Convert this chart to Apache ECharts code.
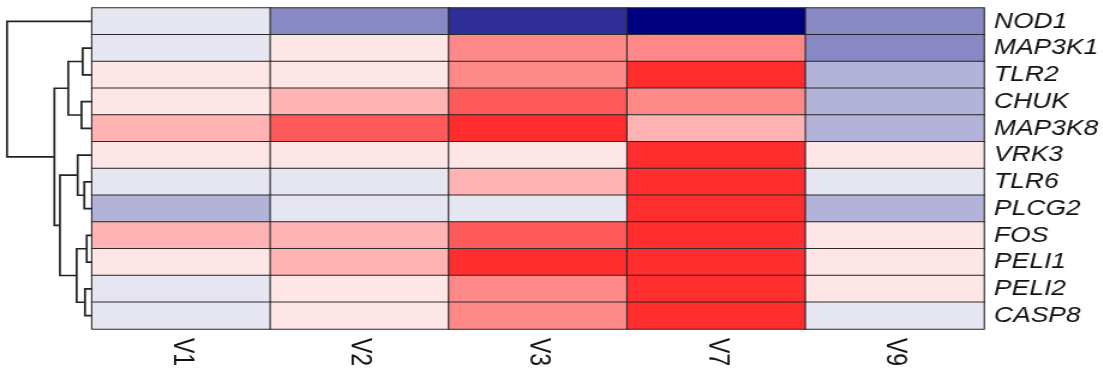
<!DOCTYPE html>
<html>
<head>
<meta charset="utf-8">
<script src="https://cdn.jsdelivr.net/npm/echarts@6/dist/echarts.min.js"></script>
<style>
  html, body { margin: 0; padding: 0; background: #ffffff; overflow: hidden; }
  #frame { width: 1103px; height: 376px; overflow: hidden; }
  #chart { height: 376px; transform-origin: 0 0; }
</style>
</head>
<body>
<div id="frame"><div id="chart"></div></div>
<script>
// Genes (rows, top to bottom) and samples (columns)
const genes = ['NOD1', 'MAP3K1', 'TLR2', 'CHUK', 'MAP3K8', 'VRK3', 'TLR6', 'PLCG2', 'FOS', 'PELI1', 'PELI2', 'CASP8'];
const samples = ['V1', 'V2', 'V3', 'V7', 'V9'];

// Binned expression level per gene, one entry per sample (-5 = lowest, 5 = highest)
const NOD1   = [-1, -3, -4, -5, -3];
const MAP3K1 = [-1,  1,  3,  3, -3];
const TLR2   = [ 1,  1,  3,  5, -2];
const CHUK   = [ 1,  2,  4,  3, -2];
const MAP3K8 = [ 2,  4,  5,  2, -2];
const VRK3   = [ 1,  1,  1,  5,  1];
const TLR6   = [-1, -1,  2,  5, -1];
const PLCG2  = [-2, -1, -1,  5, -2];
const FOS    = [ 2,  2,  4,  5,  1];
const PELI1  = [ 1,  2,  5,  5,  1];
const PELI2  = [-1,  1,  3,  5,  1];
const CASP8  = [-1,  1,  3,  5, -1];
const levels = [NOD1, MAP3K1, TLR2, CHUK, MAP3K8, VRK3, TLR6, PLCG2, FOS, PELI1, PELI2, CASP8];

// Level colours: navy through white to red
const levelColors = {
  '-5': '#000080', '-4': '#2e2e96', '-3': '#8888c4', '-2': '#b3b3d9', '-1': '#e6e6f2',
  '1': '#ffe6e6', '2': '#ffb3b3', '3': '#ff8888', '4': '#ff5a5a', '5': '#ff2d2d'
};

// Row clustering, hclust-style: negative = leaf (1-based row), positive = earlier merge step
const mergePairs = [[-9, -10], [-11, -12], [-7, -8], [-2, -3], [-4, -5], [-6, 3], [1, 2], [4, 5], [6, 7], [8, 9], [-1, 10]];
const mergeHeights = [5.3, 7.0, 7.7, 9.3, 10.5, 14.3, 15.3, 23.7, 32.0, 37.5, 84.7];

// heatmap cells
const cells = [];
levels.forEach((row, r) => row.forEach((v, c) => cells.push([c, r, v])));

// dendrogram links: [heightA, posA, mergeHeight, posB, heightB]
const nodePos = [], nodeHeight = [];
function pos(ref) { return ref < 0 ? -ref - 1 : nodePos[ref - 1]; }
function hgt(ref) { return ref < 0 ? 0 : nodeHeight[ref - 1]; }
const links = mergePairs.map(([a, b], i) => {
  nodePos[i] = (pos(a) + pos(b)) / 2;
  nodeHeight[i] = mergeHeights[i];
  return [hgt(a), pos(a), mergeHeights[i], pos(b), hgt(b)];
});

// The chart is laid out on a narrower canvas and widened horizontally,
// so glyphs come out wide, as in the original R graphics device.
const stretchX = 1.2;
const pageWidth = 1103;
const el = document.getElementById('chart');
el.style.width = (pageWidth / stretchX) + 'px';
el.style.transform = 'scaleX(' + stretchX + ')';
const px = v => v / stretchX;

const chart = echarts.init(el, null, { renderer: 'canvas' });
const fontFamily = '"Liberation Sans", Arial, sans-serif';

chart.setOption({
  animation: false,
  backgroundColor: '#ffffff',
  grid: [
    { left: px(92), top: 8, width: px(892), height: 321 },
    { left: px(7), top: 8, width: px(85), height: 321 }
  ],
  xAxis: [
    {
      type: 'category', data: samples, gridIndex: 0, position: 'bottom',
      axisLine: { show: false }, axisTick: { show: false }, splitLine: { show: false },
      axisLabel: {
        interval: 0, rotate: -90, margin: 9, color: '#111', fontSize: 23, fontFamily: fontFamily,
        verticalAlign: 'middle', align: 'left'
      }
    },
    { type: 'value', gridIndex: 1, min: 0, max: 84.7, inverse: true, show: false }
  ],
  yAxis: [
    {
      type: 'category', data: genes, gridIndex: 0, inverse: true, position: 'right',
      axisLine: { show: false }, axisTick: { show: false }, splitLine: { show: false },
      axisLabel: { interval: 0, margin: px(10), color: '#111', fontSize: 22, fontStyle: 'italic', fontFamily: fontFamily }
    },
    { type: 'value', gridIndex: 1, min: -0.5, max: 11.5, inverse: true, show: false }
  ],
  visualMap: {
    type: 'piecewise', show: false, seriesIndex: 0, dimension: 2,
    pieces: Object.keys(levelColors).map(k => ({ value: Number(k), color: levelColors[k] }))
  },
  series: [
    {
      type: 'heatmap', xAxisIndex: 0, yAxisIndex: 0, data: cells,
      itemStyle: { borderColor: '#2a2a2a', borderWidth: 1.1 },
      emphasis: { disabled: true }
    },
    {
      type: 'custom', xAxisIndex: 1, yAxisIndex: 1, data: links,
      encode: { x: [0, 2, 4], y: [1, 3] },
      renderItem: function (params, api) {
        const hA = api.value(0), pA = api.value(1), h = api.value(2), pB = api.value(3), hB = api.value(4);
        return {
          type: 'polyline',
          shape: { points: [api.coord([hA, pA]), api.coord([h, pA]), api.coord([h, pB]), api.coord([hB, pB])] },
          style: { stroke: '#222', lineWidth: 1.7, fill: null }
        };
      }
    }
  ]
});
</script>
</body>
</html>
